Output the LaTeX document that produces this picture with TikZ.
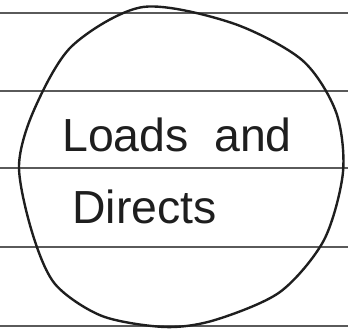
\documentclass[tikz,border=0pt]{standalone}
\usepackage{fontspec}
\setmainfont{Liberation Sans}
\definecolor{ink}{HTML}{1E1E1E}
\definecolor{rule}{HTML}{5A5A5A}

\begin{document}
\begin{tikzpicture}[x=0.025cm, y=-0.025cm,
    ruling/.style={draw=rule, line width=0.9pt},
    outline/.style={draw=ink, line width=1.7pt, line join=round},
    word/.style={font=\fontsize{33}{40}\selectfont, text=ink, inner sep=0pt, anchor=base west}]
  % fixed canvas, pixel units
  \useasboundingbox (0,0) rectangle (348,333);

  % lined paper
  \foreach \y in {13,91,168,247,326}
    \draw[ruling] (0,\y) -- (348,\y);

  % hand drawn circle
  \draw[outline] plot[smooth cycle] coordinates {
    (143,7) (232,23) (302,60) (336,112) (343,172) (324,240) (280,292)
    (215,320) (165,327) (102,316) (55,284) (32,232) (19,166) (34,110)
    (72,46)};

  % label
  \node[word] (loads) at (62,152) {Loads\hspace{0.55em}and};
  \node[word] (directs) at (72,224) {Directs};
\end{tikzpicture}
\end{document}
